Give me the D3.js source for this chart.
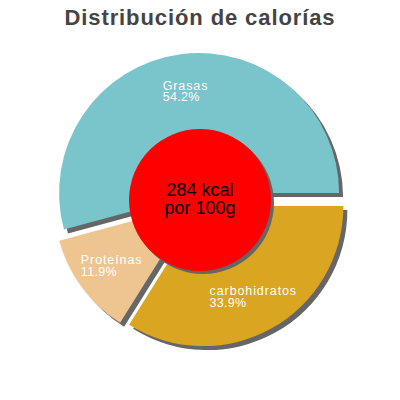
<!DOCTYPE html>
<html>
<head>
<meta charset="utf-8">
<script src="https://cdn.jsdelivr.net/npm/d3@7"></script>
<style>
  html, body { margin: 0; padding: 0; background: #fff; }
  svg { display: block; font-family: "Liberation Sans", Arial, sans-serif; }
</style>
</head>
<body>
<svg id="chart" width="400" height="400"></svg>
<script>
const title = "Distribución de calorías";
const categories = ["carbohidratos", "Proteínas", "Grasas"];
const values = [33.9, 11.9, 54.2];
const colors = ["#DAA520", "#EEC591", "#7AC4CC"];
const centerLines = ["284 kcal", "por 100g"];

const W = 400, H = 400;
const cx = 200, cy = 200;
const R = 140, explode = 7, centerR = 71;
const shadowColor = "#666666";

const svg = d3.select("#chart");

svg.append("text")
  .attr("x", W / 2).attr("y", 25)
  .attr("text-anchor", "middle")
  .attr("font-size", 22).attr("font-weight", "bold")
  .attr("letter-spacing", 0.9)
  .attr("fill", "#444444")
  .text(title);

const data = categories.map((c, i) => ({ name: c, value: values[i], color: colors[i] }));

const pie = d3.pie().sort(null).value(d => d.value)
  .startAngle(Math.PI / 2).endAngle(Math.PI / 2 + 2 * Math.PI);
const arcs = pie(data);
const arc = d3.arc().innerRadius(0).outerRadius(R);
const labelArc = d3.arc().innerRadius(103).outerRadius(103);

function offset(d) {
  const a = (d.startAngle + d.endAngle) / 2;
  return [Math.sin(a) * explode, -Math.cos(a) * explode];
}

const g = svg.append("g").attr("transform", `translate(${cx},${cy})`);

// shadows
g.selectAll("path.shadow").data(arcs).enter().append("path")
  .attr("class", "shadow")
  .attr("d", arc)
  .attr("fill", shadowColor)
  .attr("transform", d => { const o = offset(d); return `translate(${o[0] + 4},${o[1] + 4})`; });

// slices
g.selectAll("path.slice").data(arcs).enter().append("path")
  .attr("class", "slice")
  .attr("d", arc)
  .attr("fill", d => d.data.color)
  .attr("transform", d => { const o = offset(d); return `translate(${o[0]},${o[1]})`; });

// labels
arcs.forEach(d => {
  const o = offset(d);
  const c = labelArc.centroid(d);
  const lx = c[0] + o[0], ly = c[1] + o[1];
  const t1 = g.append("text").attr("fill", "#ffffff").attr("font-size", 12.5)
    .attr("letter-spacing", 0.9).attr("y", ly - 1).text(d.data.name);
  const t2 = g.append("text").attr("fill", "#ffffff").attr("font-size", 12.5)
    .attr("letter-spacing", 0.3).attr("y", ly + 10.5)
    .text(d3.format(".1f")(d.data.value) + "%");
  const ww = Math.max(t1.node().getBBox().width, t2.node().getBBox().width);
  t1.attr("x", lx - ww / 2);
  t2.attr("x", lx - ww / 2);
});

// center circle
g.append("circle").attr("cx", 3).attr("cy", 3).attr("r", centerR).attr("fill", shadowColor);
g.append("circle").attr("cx", 0).attr("cy", 0).attr("r", centerR).attr("fill", "#FF0000");
g.append("text")
  .attr("text-anchor", "middle")
  .attr("font-size", 18)
  .attr("fill", "#000000")
  .selectAll("tspan").data(centerLines).enter().append("tspan")
  .attr("x", 0)
  .attr("y", (d, i) => -4 + i * 17.5)
  .text(d => d);
</script>
</body>
</html>
